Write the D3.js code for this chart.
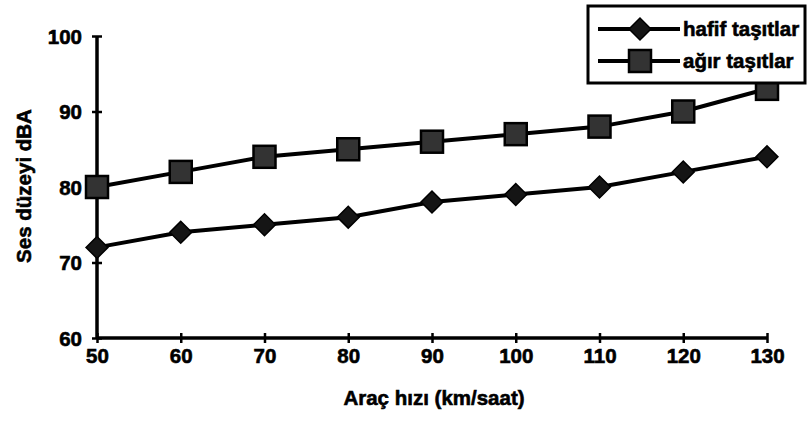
<!DOCTYPE html>
<html>
<head>
<meta charset="utf-8">
<script src="https://cdn.jsdelivr.net/npm/d3@7"></script>
<style>
  html, body { margin: 0; padding: 0; background: #fff; }
  svg { display: block; }
  text { font-family: "Liberation Sans", Arial, sans-serif; font-weight: bold; fill: #000; stroke: #000; stroke-width: 0.6px; }
</style>
</head>
<body>
<svg id="chart" width="808" height="421"></svg>
<script>
// ---- data ----
const speeds = [50, 60, 70, 80, 90, 100, 110, 120, 130];
const hafif = [72, 74, 75, 76, 78, 79, 80, 82, 84];
const agir  = [80, 82, 84, 85, 86, 87, 88, 90, 93];
const seriesNames = ["hafif taşıtlar", "ağır taşıtlar"];
const yTicks = [60, 70, 80, 90, 100];
const xTitle = "Araç hızı (km/saat)";
const yTitle = "Ses düzeyi dBA";

const svg = d3.select("#chart");
const x = d3.scaleLinear().domain([50, 130]).range([97, 767]);
const y = d3.scaleLinear().domain([60, 100]).range([338, 36]);

const ink = "#000";
const fs = 20.5;

// axes
const yAxis = svg.append("g").attr("transform", `translate(${x(50)},0)`)
  .call(d3.axisLeft(y).tickValues(yTicks).tickSize(0).tickPadding(15).tickFormat(d3.format("d")));
yAxis.select(".domain").attr("stroke", ink).attr("stroke-width", 3.5).attr("d", `M0,${y(100)}V${y(60)}`);
yAxis.selectAll(".tick text").attr("font-size", fs).attr("font-family", null).attr("dy", "0.35em");
yAxis.selectAll(".tick").append("line").attr("x1", -5).attr("x2", 5).attr("stroke", ink).attr("stroke-width", 2.5);

const xAxis = svg.append("g").attr("transform", `translate(0,${y(60)})`)
  .call(d3.axisBottom(x).tickValues(speeds).tickSize(0).tickPadding(25).tickFormat(d3.format("d")));
xAxis.select(".domain").attr("stroke", ink).attr("stroke-width", 3.5).attr("d", `M${x(50)},0H${x(130)}`);
xAxis.selectAll(".tick text").attr("font-size", fs).attr("font-family", null).attr("dy", "0");
xAxis.selectAll(".tick").append("line").attr("y1", -5).attr("y2", 5).attr("stroke", ink).attr("stroke-width", 2.5);

// titles
svg.append("text").attr("x", 434).attr("y", 405).attr("text-anchor", "middle")
  .attr("font-size", fs).text(xTitle);
svg.append("text").attr("transform", "translate(31,186) rotate(-90)").attr("text-anchor", "middle")
  .attr("font-size", fs).text(yTitle);

// lines
const line = d3.line().x((d, i) => x(speeds[i])).y(d => y(d));
svg.append("path").datum(hafif).attr("d", line).attr("fill", "none").attr("stroke", ink).attr("stroke-width", 4);
svg.append("path").datum(agir).attr("d", line).attr("fill", "none").attr("stroke", ink).attr("stroke-width", 4);

const diamond = d3.symbol().type(d3.symbolSquare).size(240);
function drawDiamond(g, cx, cy) {
  g.append("path").attr("d", diamond()).attr("transform", `translate(${cx},${cy}) rotate(45)`)
    .attr("fill", "#151515").attr("stroke", ink).attr("stroke-width", 1.5);
}
function drawSquare(g, cx, cy) {
  g.append("rect").attr("x", cx - 11).attr("y", cy - 11).attr("width", 22).attr("height", 22)
    .attr("fill", "#333").attr("stroke", ink).attr("stroke-width", 2.5);
}
const markers = svg.append("g");
hafif.forEach((v, i) => drawDiamond(markers, x(speeds[i]), y(v)));
agir.forEach((v, i) => drawSquare(markers, x(speeds[i]), y(v)));

// legend
const lg = svg.append("g");
lg.append("rect").attr("x", 588).attr("y", 6).attr("width", 217).attr("height", 77)
  .attr("fill", "#fff").attr("stroke", ink).attr("stroke-width", 3);
const rows = [29, 61];
seriesNames.forEach((name, i) => {
  const ry = rows[i];
  lg.append("line").attr("x1", 598).attr("x2", 680).attr("y1", ry).attr("y2", ry)
    .attr("stroke", ink).attr("stroke-width", 4);
  if (i === 0) drawDiamond(lg, 640, ry); else drawSquare(lg, 640, ry);
  lg.append("text").attr("x", 683).attr("y", ry).attr("dy", "0.35em")
    .attr("font-size", fs).text(name);
});
</script>
</body>
</html>
